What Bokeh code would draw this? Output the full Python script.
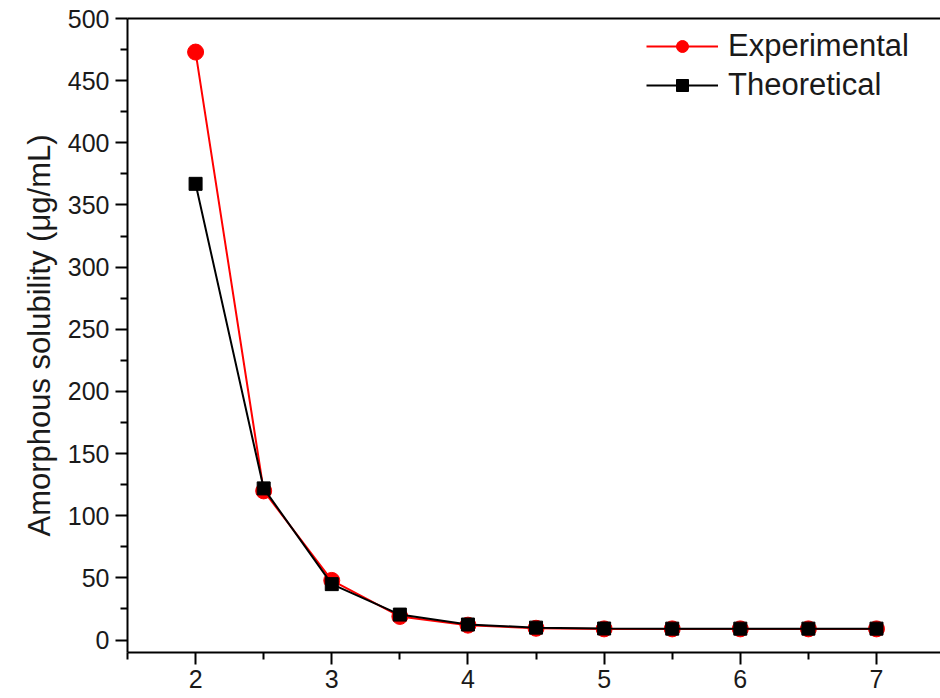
from bokeh.plotting import figure
from bokeh.models import FixedTicker, LinearAxis, Legend, LegendItem, Range1d
from bokeh.embed import file_html
from bokeh.resources import INLINE

ph = [2, 2.5, 3, 3.5, 4, 4.5, 5, 5.5, 6, 6.5, 7]
experimental = [473, 120, 48, 19, 12, 9.5, 9, 9, 9, 9, 9]
theoretical = [367, 122, 45, 20.5, 12.5, 10, 9.3, 9.2, 9.2, 9.2, 9.2]
x_ticks = [2, 3, 4, 5, 6, 7]
x_minor = [1.5, 2.5, 3.5, 4.5, 5.5, 6.5, 7.5]
y_ticks = [0, 50, 100, 150, 200, 250, 300, 350, 400, 450, 500]
y_minor = [25, 75, 125, 175, 225, 275, 325, 375, 425, 475]
y_label = "Amorphous solubility (\u03bcg/mL)"

FONT = "Liberation Sans"

p = figure(width=940, height=698, output_backend="svg", toolbar_location=None,
           x_range=Range1d(1.5, 7.47), y_range=Range1d(-10, 500),
           min_border_left=127, min_border_right=0, min_border_top=18, min_border_bottom=46)
p.outline_line_color = None
p.xgrid.visible = False
p.ygrid.visible = False
p.background_fill_color = "white"
p.border_fill_color = "white"

r1l = p.line(ph, experimental, line_color="red", line_width=2)
r1m = p.scatter(ph, experimental, marker="circle", size=16, fill_color="red", line_color="red")
r2l = p.line(ph, theoretical, line_color="black", line_width=2)
r2m = p.scatter(ph, theoretical, marker="square", size=13, fill_color="black", line_color="black")

for ax in (p.xaxis[0], p.yaxis[0]):
    ax.axis_line_width = 2
    ax.axis_line_color = "black"
    ax.major_tick_line_width = 2
    ax.minor_tick_line_width = 2
    ax.major_tick_out = 12
    ax.major_tick_in = 0
    ax.minor_tick_out = 7
    ax.minor_tick_in = 0
    ax.major_label_text_font = FONT
    ax.major_label_text_font_size = "25px"
    ax.major_label_text_color = "#1a1a1a"

p.xaxis[0].ticker = FixedTicker(ticks=x_ticks, minor_ticks=x_minor)
p.yaxis[0].ticker = FixedTicker(ticks=y_ticks, minor_ticks=y_minor)
p.xaxis[0].major_label_standoff = 5
p.yaxis[0].major_label_standoff = 6
p.yaxis[0].axis_label = y_label
p.yaxis[0].axis_label_text_font = FONT
p.yaxis[0].axis_label_text_font_size = "31px"
p.yaxis[0].axis_label_text_font_style = "normal"
p.yaxis[0].axis_label_text_color = "#1a1a1a"
p.yaxis[0].axis_label_standoff = 8

top = LinearAxis(ticker=FixedTicker(ticks=[]), axis_line_width=2, axis_line_color="black",
                 major_tick_line_color=None, minor_tick_line_color=None,
                 major_label_text_font_size="0px")
p.add_layout(top, "above")

legend = Legend(items=[LegendItem(label="Experimental", renderers=[r1l, r1m]),
                       LegendItem(label="Theoretical", renderers=[r2l, r2m])],
                location=(519, 549), padding=0, margin=0, spacing=3,
                glyph_width=72, glyph_height=30, label_height=30,
                label_text_font=FONT, label_text_font_size="31px",
                label_text_color="#1a1a1a", label_standoff=10,
                border_line_color=None, background_fill_alpha=0)
p.add_layout(legend, "center")

open("out.html", "w").write(file_html(p, INLINE))
